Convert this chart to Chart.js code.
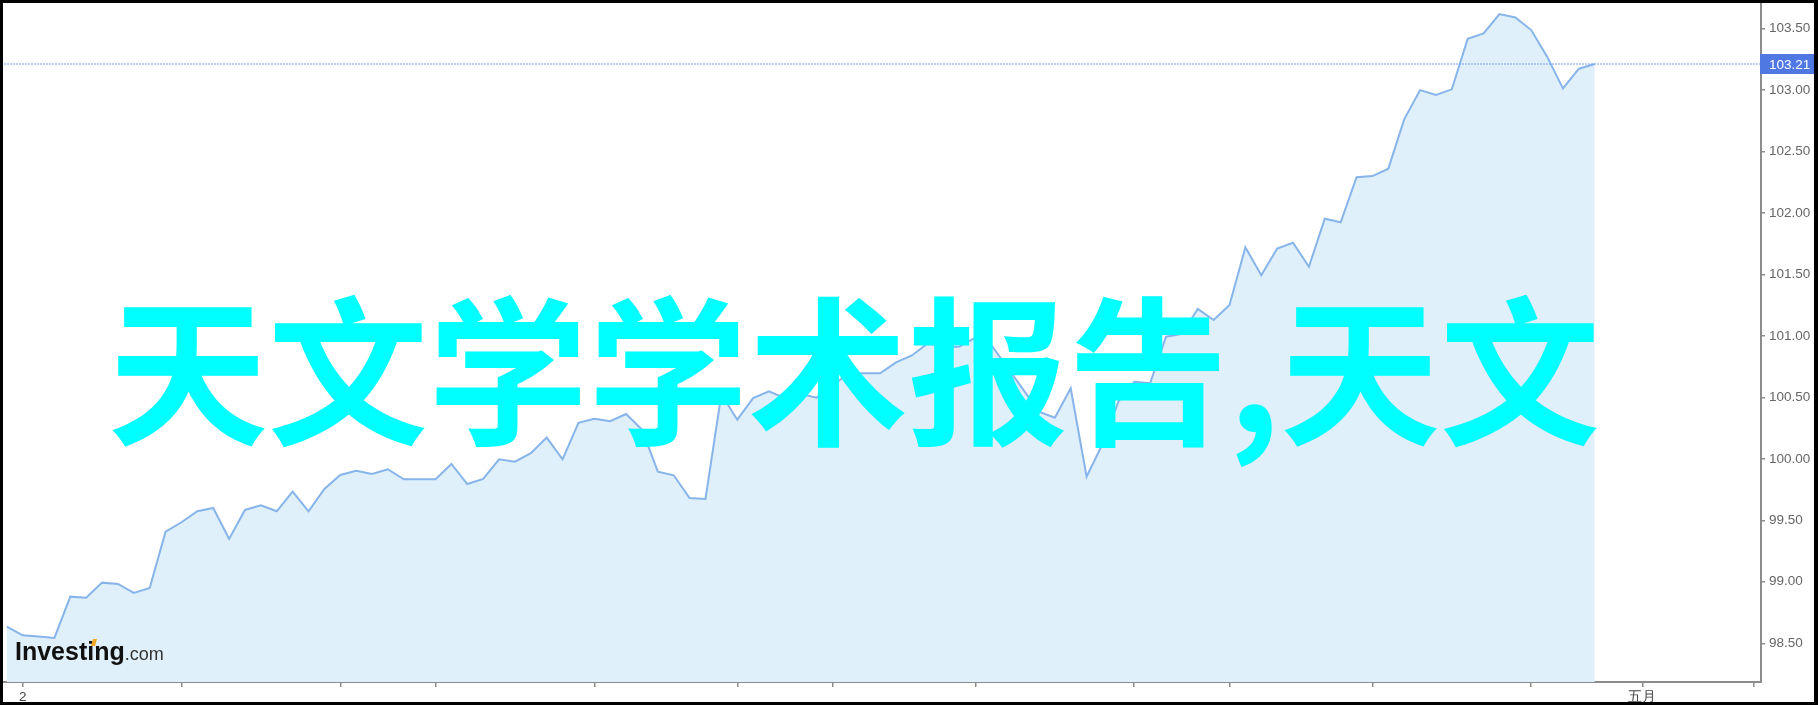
<!DOCTYPE html>
<html>
<head>
<meta charset="utf-8">
<script src="https://cdn.jsdelivr.net/npm/chart.js@4.4.1/dist/chart.umd.min.js"></script>
<style>
    html, body { margin: 0; padding: 0; background: #000; }
    #wrap { position: absolute; left: 3px; top: 3px; width: 1811px; height: 699px; background: #fff; }
</style>
</head>
<body>
<div id="wrap"><canvas id="chart"></canvas></div>
<script>
// price series, one value per bar (index 0 = first bar)
const priceValues = [
    98.635, 98.565, 98.554, 98.543, 98.879, 98.871, 98.993, 98.982, 98.909, 98.950,
    99.407, 99.484, 99.573, 99.600, 99.348, 99.584, 99.622, 99.573, 99.733, 99.573,
    99.754, 99.868, 99.903, 99.876, 99.915, 99.833, 99.833, 99.833, 99.958, 99.795,
    99.836, 99.996, 99.976, 100.045, 100.172, 99.996, 100.293, 100.326, 100.305, 100.364,
    100.237, 99.895, 99.866, 99.681, 99.673, 100.527, 100.318, 100.494, 100.548, 100.492,
    100.526, 100.497, 100.594, 100.695, 100.695, 100.695, 100.784, 100.840, 100.939, 100.907,
    100.912, 100.985, 100.925, 100.744, 100.565, 100.383, 100.334, 100.573, 99.854, 100.120,
    100.464, 100.627, 100.614, 100.993, 101.015, 101.218, 101.128, 101.250, 101.720, 101.493,
    101.710, 101.757, 101.562, 101.952, 101.923, 102.289, 102.299, 102.359, 102.760, 102.998,
    102.958, 103.004, 103.416, 103.459, 103.616, 103.589, 103.486, 103.270, 103.012, 103.172,
    103.21
];
const lastPrice = 103.21;

// x axis: tick positions (bar index) and the few that carry a label
const xTickIdx = [1, 11, 21, 27, 37, 46, 52, 61, 71, 77, 86, 96, 103, 110];
const xTickLabels = { 1: '2', 103: '五月' };
const yTickValues = [98.5, 99.0, 99.5, 100.0, 100.5, 101.0, 101.5, 102.0, 102.5, 103.0, 103.5];

const watermark = '天文学学术报告,天文';

const xMin = -0.176, xMax = 110.47;
const yMin = 98.185, yMax = 103.698;

const axisColor = '#8c8c8c';
const tickFont = { family: 'Arial, "Liberation Sans", sans-serif', size: 13.5 };

const overlays = {
    id: 'overlays',
    afterDatasetsDraw(chart) {
        const ctx = chart.ctx;
        // Investing.com logo
        ctx.save();
        ctx.textBaseline = 'alphabetic';
        ctx.fillStyle = '#111';
        ctx.font = 'bold 25px Arial, "Liberation Sans", sans-serif';
        ctx.fillText('Investing', 12, 657);
        const w = ctx.measureText('Investing').width;
        ctx.fillStyle = '#333';
        ctx.font = '18px Arial, "Liberation Sans", sans-serif';
        ctx.fillText('.com', 12 + w, 657);
        ctx.fillStyle = '#f5a623';
        ctx.beginPath();
        ctx.moveTo(88, 643); ctx.lineTo(92, 643); ctx.lineTo(94, 636); ctx.lineTo(90, 636);
        ctx.closePath();
        ctx.fill();
        ctx.restore();
    },
    afterDraw(chart) {
        const ctx = chart.ctx;
        const yScale = chart.scales.y;
        const area = chart.chartArea;
        // last price tag
        const y = yScale.getPixelForValue(lastPrice);
        ctx.save();
        ctx.fillStyle = '#4f78e3';
        ctx.fillRect(area.right - 1, y - 10, chart.width - area.right + 1, 20);
        ctx.fillStyle = '#fff';
        ctx.font = '13.5px Arial, "Liberation Sans", sans-serif';
        ctx.textBaseline = 'middle';
        ctx.fillText(lastPrice.toFixed(2), area.right + 8, y + 1);
        // watermark text
        ctx.fillStyle = '#00ffff';
        ctx.font = 'bold 160px "Noto Sans CJK SC", sans-serif';
        ctx.textBaseline = 'alphabetic';
        ctx.fillText(watermark, 105, 430);
        ctx.restore();
    }
};

new Chart(document.getElementById('chart').getContext('2d'), {
    type: 'line',
    data: {
        datasets: [{
            data: [{ x: xMin, y: lastPrice }, { x: xMax, y: lastPrice }],
            borderColor: '#7d9cf0',
            borderWidth: 1,
            borderDash: [2, 1],
            pointRadius: 0,
            fill: false,
            order: 0
        }, {
            data: priceValues.map((v, i) => ({ x: i, y: v })),
            borderColor: 'rgb(135,180,234)',
            borderWidth: 2,
            backgroundColor: 'rgb(223,240,250)',
            fill: 'start',
            pointRadius: 0,
            tension: 0,
            order: 1
        }]
    },
    options: {
        responsive: true,
        maintainAspectRatio: false,
        animation: false,
        devicePixelRatio: 1,
        layout: { padding: { top: 1, left: 1, right: 0, bottom: 0 } },
        plugins: {
            legend: { display: false },
            tooltip: { enabled: false },
            filler: { drawTime: 'beforeDatasetsDraw' }
        },
        scales: {
            x: {
                type: 'linear',
                min: xMin,
                max: xMax,
                afterBuildTicks: scale => { scale.ticks = xTickIdx.map(v => ({ value: v })); },
                afterFit: scale => { scale.height = 20; scale.paddingLeft = 0; scale.paddingRight = 0; },
                ticks: {
                    autoSkip: false,
                    maxRotation: 0,
                    padding: 2,
                    color: '#444',
                    font: tickFont,
                    callback: v => xTickLabels[v] ?? ''
                },
                grid: { drawOnChartArea: false, tickLength: 5, color: axisColor, lineWidth: 1.5 },
                border: { color: axisColor, width: 2 }
            },
            y: {
                position: 'right',
                min: yMin,
                max: yMax,
                afterBuildTicks: scale => { scale.ticks = yTickValues.map(v => ({ value: v })); },
                afterFit: scale => { scale.width = 53; scale.paddingTop = 0; scale.paddingBottom = 0; },
                ticks: {
                    padding: 4,
                    color: '#666',
                    font: tickFont,
                    callback: v => v.toFixed(2)
                },
                grid: { drawOnChartArea: false, tickLength: 4, color: axisColor, lineWidth: 1.5 },
                border: { color: axisColor, width: 2 }
            }
        }
    },
    plugins: [overlays]
});
</script>
</body>
</html>
